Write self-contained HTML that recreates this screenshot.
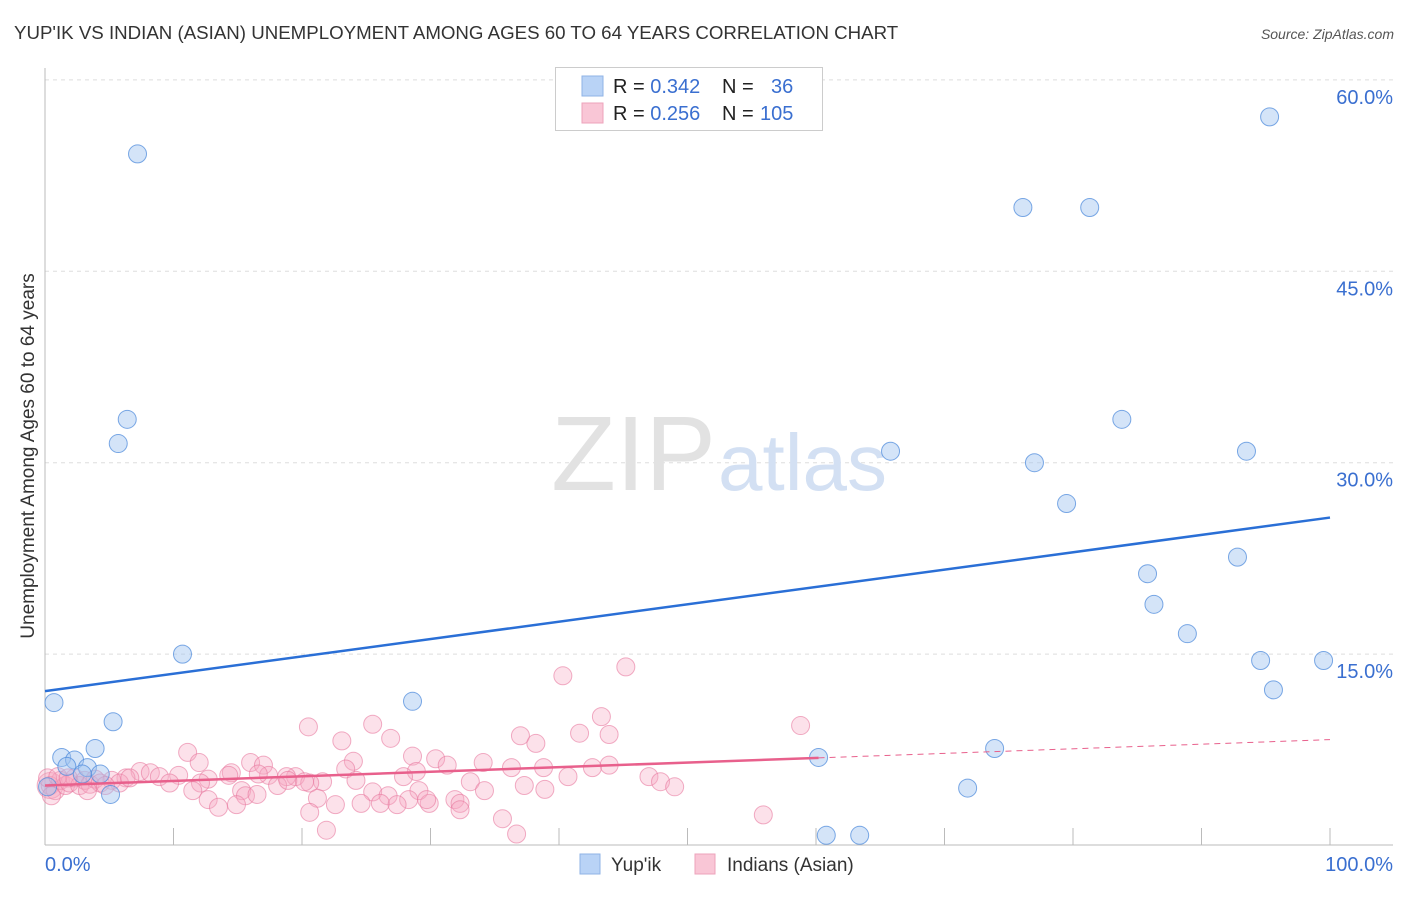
<!DOCTYPE html>
<html><head><meta charset="utf-8">
<style>
body{margin:0;background:#fff;font-family:"Liberation Sans",sans-serif;}
svg text{font-family:"Liberation Sans",sans-serif;}
</style></head>
<body>
<svg id="chart" width="1406" height="892" xmlns="http://www.w3.org/2000/svg">
<text x="14" y="39" font-size="18.7" fill="#333">YUP'IK VS INDIAN (ASIAN) UNEMPLOYMENT AMONG AGES 60 TO 64 YEARS CORRELATION CHART</text>
<text x="1394" y="39" font-size="14" fill="#555" font-style="italic" text-anchor="end">Source: ZipAtlas.com</text>
<text transform="translate(34,456) rotate(-90)" font-size="19" fill="#333" text-anchor="middle">Unemployment Among Ages 60 to 64 years</text>
<g id="grid"></g>
<g id="axes"></g>
<text x="716" y="490" font-size="106" fill="#e2e2e2" text-anchor="end" font-family="Liberation Serif">ZIP</text>
<text x="718" y="490" font-size="80" fill="#d3e0f3">atlas</text>
<g id="pink"></g>
<g id="blue"></g>
<g id="lines"></g>
<g>
<rect x="555.5" y="67.5" width="267" height="63" fill="#fff" stroke="#ccc"/>
<rect x="582" y="76" width="21" height="20" fill="#b9d3f6" stroke="#8fb3e6"/>
<rect x="582" y="103" width="21" height="20" fill="#f9c6d6" stroke="#eda3bb"/>
<text x="613" y="93" font-size="20" fill="#222">R = <tspan fill="#3a6fd0">0.342</tspan><tspan x="722">N = </tspan><tspan x="771" fill="#3a6fd0">36</tspan></text>
<text x="613" y="120" font-size="20" fill="#222">R = <tspan fill="#3a6fd0">0.256</tspan><tspan x="722">N = </tspan><tspan x="760" fill="#3a6fd0">105</tspan></text>
</g>
<g>
<rect x="580" y="854" width="20" height="20" fill="#b9d3f6" stroke="#8fb3e6"/>
<text x="611" y="871" font-size="19" fill="#333">Yup'ik</text>
<rect x="695" y="854" width="20" height="20" fill="#f9c6d6" stroke="#eda3bb"/>
<text x="727" y="871" font-size="19" fill="#333">Indians (Asian)</text>
</g>
</svg>
<script>
const yTicks=[15,30,45,60];
const yTickLabels=["15.0%","30.0%","45.0%","60.0%"];
const xTickLabels=["0.0%","100.0%"];
const yupikX=[0.7,7.2,6.4,5.7,10.7,5.3,3.9,1.3,2.3,1.7,3.3,4.3,2.9,5.1,28.6,60.2,60.8,63.4,65.8,71.8,73.9,76.1,77.0,79.5,81.3,83.8,85.8,86.3,88.9,92.8,93.5,94.6,95.3,95.6,99.5,0.2];
const yupikY=[11.2,54.2,33.4,31.5,15.0,9.7,7.6,6.9,6.7,6.2,6.1,5.6,5.6,4.0,11.3,6.9,0.8,0.8,30.9,4.5,7.6,50.0,30.0,26.8,50.0,33.4,21.3,18.9,16.6,22.6,30.9,14.5,57.1,12.2,14.5,4.6];
const indX=[40.3,45.2,43.3,20.5,25.5,41.6,43.9,37.0,38.2,23.1,26.9,58.8,11.1,12.0,28.6,30.4,24.0,34.1,31.3,43.9,16.0,17.0,36.3,38.8,42.6,23.4,7.4,8.2,14.5,28.9,10.4,14.3,17.4,19.5,18.8,47.0,47.9,40.7,27.9,24.2,6.3,8.9,12.7,21.6,33.1,9.7,12.1,18.1,20.6,49.0,37.3,34.2,38.9,29.1,25.5,26.7,11.5,15.3,15.6,16.5,21.2,28.3,31.9,32.3,29.9,12.7,29.7,26.1,24.6,22.6,14.9,13.5,32.3,27.4,20.6,35.6,55.9,21.9,36.7,16.6,18.9,20.2,5.2,5.8,6.6,0.4,0.8,1.2,1.6,1.9,2.3,2.7,3.1,3.5,3.9,4.3,4.7,0.2,0.5,1.0,1.8,3.3];
const indY=[13.3,14.0,10.1,9.3,9.5,8.8,8.7,8.6,8.0,8.2,8.4,9.4,7.3,6.5,7.0,6.8,6.6,6.5,6.3,6.3,6.5,6.3,6.1,6.1,6.1,6.0,5.8,5.7,5.7,5.8,5.5,5.5,5.5,5.4,5.4,5.4,5.0,5.4,5.4,5.1,5.3,5.4,5.2,5.0,5.0,4.9,4.9,4.7,4.9,4.6,4.7,4.3,4.4,4.3,4.2,3.9,4.3,4.3,3.9,4.0,3.7,3.6,3.6,3.3,3.3,3.6,3.6,3.3,3.3,3.2,3.2,3.0,2.8,3.2,2.6,2.1,2.4,1.2,0.9,5.6,5.1,5.0,5.1,4.9,5.3,4.7,4.3,5.1,4.7,4.9,5.3,4.7,5.1,4.8,5.2,4.9,4.7,5.3,3.9,5.4,5.3,4.3];
const yupikTrend=[12.1,25.7];
const indTrend=[4.7,8.3];
const indTrendEnd=60.2;

const NS="http://www.w3.org/2000/svg";
const X=v=>45+v*12.85;
const Y=v=>845.5-v*12.76;
function mk(tag,attrs,parent){const e=document.createElementNS(NS,tag);for(const k in attrs)e.setAttribute(k,attrs[k]);parent.appendChild(e);return e;}
const grid=document.getElementById('grid'),axes=document.getElementById('axes');
yTicks.forEach((t,i)=>{
  const l=mk('line',{x1:45,x2:1393,y1:Y(t),y2:Y(t),stroke:'#ddd','stroke-dasharray':'4,4'},grid);
  
  
  const tx=mk('text',{x:1393,y:Y(t)+24,'font-size':20,fill:'#3a6fd0','text-anchor':'end'},axes);
  tx.textContent=yTickLabels[i];
  
  
});
mk('line',{x1:45,x2:45,y1:68,y2:845,stroke:'#bbb'},axes);
mk('line',{x1:45,x2:1393,y1:845,y2:845,stroke:'#bbb'},axes);
for(let i=0;i<=10;i++){const t=mk('line',{x1:X(i*10),x2:X(i*10),y1:828,y2:845,stroke:'#bbb'},axes);
  
  }
const xl0=mk('text',{x:45,y:871,'font-size':20,fill:'#3a6fd0'},axes);xl0.textContent=xTickLabels[0];

const xl1=mk('text',{x:1393,y:871,'font-size':20,fill:'#3a6fd0','text-anchor':'end'},axes);xl1.textContent=xTickLabels[1];

const pink=document.getElementById('pink');
mk('circle',{cx:X(0.4),cy:Y(4.7),r:13,fill:'rgba(244,150,180,0.3)',stroke:'rgba(230,110,150,0.5)'},pink);
indX.forEach((x,i)=>{const c=mk('circle',{cx:X(x),cy:Y(indY[i]),r:9,fill:'rgba(246,170,195,0.35)',stroke:'rgba(232,120,158,0.6)','stroke-width':1},pink);
  
  });
const blue=document.getElementById('blue');
yupikX.forEach((x,i)=>{const c=mk('circle',{cx:X(x),cy:Y(yupikY[i]),r:9,fill:'rgba(160,195,240,0.45)',stroke:'rgba(80,140,220,0.75)','stroke-width':1},blue);
  
  });
const lines=document.getElementById('lines');
const bl=mk('line',{x1:X(0),y1:Y(yupikTrend[0]),x2:X(100),y2:Y(yupikTrend[1]),stroke:'#2a6fd6','stroke-width':2.5},lines);

const iy=v=>indTrend[0]+(indTrend[1]-indTrend[0])*v/100;
const pl=mk('line',{x1:X(0),y1:Y(iy(0)),x2:X(indTrendEnd),y2:Y(iy(indTrendEnd)),stroke:'#e8608c','stroke-width':2.5},lines);

const pd=mk('line',{x1:X(indTrendEnd),y1:Y(iy(indTrendEnd)),x2:X(100),y2:Y(iy(100)),stroke:'#e8608c','stroke-width':1,'stroke-dasharray':'6,5'},lines);

</script>
</body></html>
